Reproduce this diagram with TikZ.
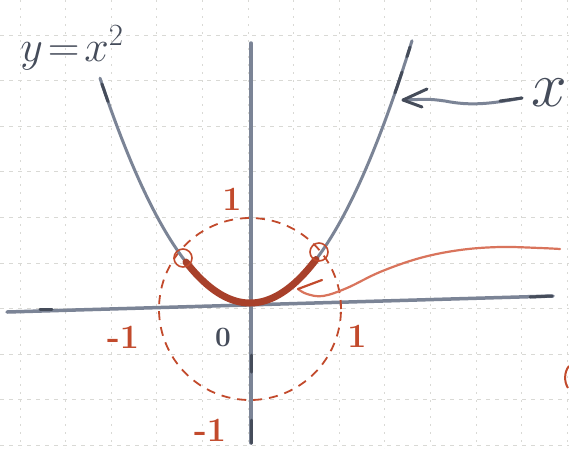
\RequirePackage{fix-cm}
\documentclass[tikz,border=0pt]{standalone}
\usepackage{fontspec}
\usetikzlibrary{arrows.meta}
\definecolor{ink}{HTML}{7B8496}
\definecolor{inkdark}{HTML}{454C5A}
\definecolor{rust}{HTML}{C24A2C}
\definecolor{rustdark}{HTML}{A8402A}
\definecolor{rustlight}{HTML}{D9745C}
\definecolor{gridc}{HTML}{D9D9D5}
\begin{document}
\begin{tikzpicture}[x=1pt,y=-1pt,
  gridh/.style={gridc, line width=0.8pt, dash pattern=on 4pt off 5pt},
  gridv/.style={gridc, line width=0.8pt, dash pattern=on 2pt off 6pt},
  axisline/.style={ink, line width=3.5pt, line cap=round},
  curve/.style={ink, line width=3pt, line cap=round},
  darkpatch/.style={inkdark, line width=3pt, line cap=round},
  redlab/.style={text=rust, font=\fontsize{34}{34}\selectfont\bfseries, inner sep=0pt},
  marker/.style={rust, line width=1.6pt},
  dashcircle/.style={rust, line width=1.8pt, dash pattern=on 9pt off 7pt}]
\useasboundingbox (0,0) rectangle (569,448);
\fill[white] (0,0) rectangle (569,448);
% grid paper
\foreach \k in {0,...,9} \draw[gridh] (0,{35+45.6*\k}) -- (569,{35+45.6*\k});
\foreach \k in {0,...,12} \draw[gridv] ({20+45.6*\k},0) -- ({20+45.6*\k},448);
% axes
\coordinate (xaxL) at (7,312);
\coordinate (xaxR) at (553,296);
\coordinate (yaxT) at (251,43);
\coordinate (yaxB) at (251,443);
\draw[axisline] (xaxL) -- (xaxR);
\draw[axisline] (yaxT) -- (yaxB);
\draw[darkpatch] (251,355) -- (251,372);
\draw[darkpatch] (251,420) -- (251,443);
\draw[darkpatch] (40,309) -- (52,309);
\draw[darkpatch] (530,297) -- (552,296);
% dashed unit circle
\coordinate (O) at (250,309);
\draw[dashcircle] (O) circle[radius=91pt];
% parabola
\draw[curve] plot[domain=-150:162, samples=90] ({250+\x}, {303-0.0100*(\x)*(\x)});
\draw[darkpatch] plot[domain=-148:-142, samples=5] ({250+\x}, {303-0.0100*(\x)*(\x)});
\draw[darkpatch] plot[domain=145:152, samples=5] ({250+\x}, {303-0.0100*(\x)*(\x)});
\draw[darkpatch] plot[domain=157:160, samples=4] ({250+\x}, {303-0.0100*(\x)*(\x)});
% thick red arc
\draw[rustdark, line width=7pt, line cap=round] plot[domain=-64:66, samples=50] ({250+\x}, {303-0.0100*(\x)*(\x)});
% intersection markers
\coordinate (PL) at (183,258);
\coordinate (PR) at (319,252);
\draw[marker] (PL) circle[radius=9pt];
\draw[marker] (PR) circle[radius=9pt];
% labels
\node[redlab] (ytop) at (232,199) {1};
\node[redlab] (xneg) at (123,337) {-1};
\node[redlab] (xpos) at (357,336) {1};
\node[redlab] (yneg) at (210,430) {-1};
\node[text=inkdark, font=\fontsize{28}{28}\selectfont\bfseries, inner sep=0pt] (zero) at (223,337) {0};
\node[text=inkdark, font=\fontsize{44}{44}\selectfont, inner sep=0pt] (eq) at (72,48) {$y\!=\!x^2$};
\node[text=inkdark, font=\fontsize{64}{64}\selectfont, inner sep=0pt] (xlab) at (549,93) {$x$};
% gray arrow from x label to the parabola
\coordinate (gstart) at (522,98);
\coordinate (gtip) at (403,100);
\draw[ink, line width=3pt, line cap=round] (gstart) .. controls (490,104) and (470,106) .. (445,101) .. controls (430,99) .. (gtip);
\draw[darkpatch] (522,98) -- (500,101);
\draw[inkdark, line width=3pt, line cap=round, line join=round] (427,89) -- (gtip) -- (422,107);
% red arrow pointing at the arc
\coordinate (rstart) at (560,249);
\coordinate (rtip) at (298,289);
\draw[rustlight, line width=2.2pt, line cap=round] plot[smooth, tension=0.6] coordinates {(rstart) (540,248) (500,247) (460,250) (420,258) (380,272) (347,288) (323,296) (307,294) (rtip)};
\draw[rust, line width=2.2pt, line cap=round] (rtip) -- (322,280);
% partial mark at right edge
\draw[rust, line width=2pt] (569,366) .. controls (564,372) and (564,382) .. (568,388);
\end{tikzpicture}
\end{document}
